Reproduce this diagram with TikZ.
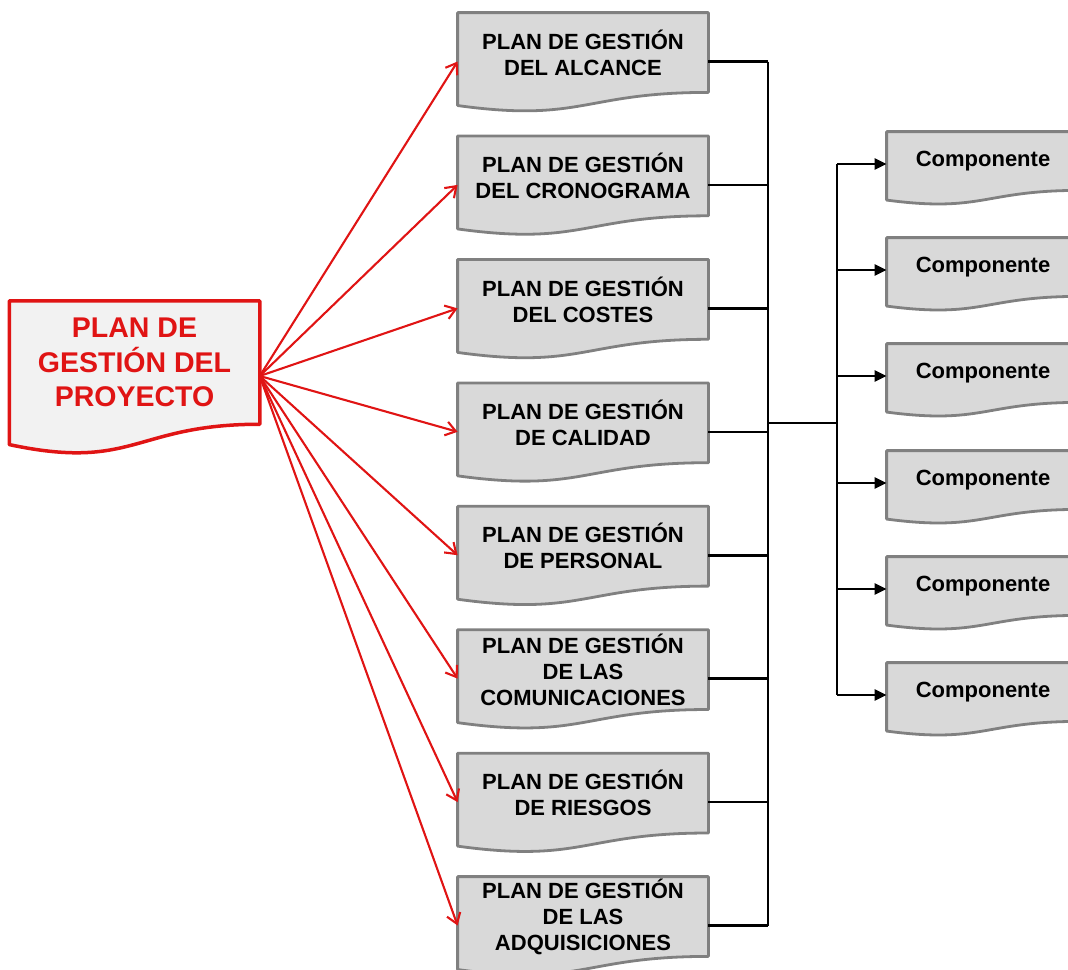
\documentclass[tikz,border=0pt]{standalone}
\usepackage{fontspec}
\setmainfont{Liberation Sans}
\usetikzlibrary{arrows.meta,calc}

% A rectangle whose bottom edge is a single wave (flowchart "document").
% The node's rectangle is the straight part; the wave hangs below it.
\makeatletter
\pgfdeclareshape{wavedoc}{%
  \inheritsavedanchors[from=rectangle]%
  \inheritanchorborder[from=rectangle]%
  \inheritanchor[from=rectangle]{center}%
  \inheritanchor[from=rectangle]{north}%
  \inheritanchor[from=rectangle]{south}%
  \inheritanchor[from=rectangle]{east}%
  \inheritanchor[from=rectangle]{west}%
  \inheritanchor[from=rectangle]{north east}%
  \inheritanchor[from=rectangle]{north west}%
  \inheritanchor[from=rectangle]{south east}%
  \inheritanchor[from=rectangle]{south west}%
  \backgroundpath{%
    \southwest \edef\docs@l{\the\pgf@x}\edef\docs@b{\the\pgf@y}%
    \northeast \edef\docs@r{\the\pgf@x}\edef\docs@t{\the\pgf@y}%
    \pgfmathsetmacro\docs@h{\docs@t-\docs@b}%
    \pgfmathsetmacro\docs@m{(\docs@l+\docs@r)/2}%
    \pgfmathsetmacro\docs@c{\docs@b-0.381*\docs@h}%
    \pgfmathsetmacro\docs@e{\docs@b-0.1646*\docs@h}%
    \pgfpathmoveto{\pgfpoint{\docs@l}{\docs@t}}%
    \pgfpathlineto{\pgfpoint{\docs@r}{\docs@t}}%
    \pgfpathlineto{\pgfpoint{\docs@r}{\docs@b}}%
    \pgfpathcurveto{\pgfpoint{\docs@m pt}{\docs@b}}%
                   {\pgfpoint{\docs@m pt}{\docs@c pt}}%
                   {\pgfpoint{\docs@l}{\docs@e pt}}%
    \pgfpathclose
  }%
}
\makeatother

\definecolor{planred}{RGB}{224,20,20}
\definecolor{boxgray}{RGB}{217,217,217}
\definecolor{bordergray}{RGB}{128,128,128}
\definecolor{mainfill}{RGB}{242,242,242}

\tikzset{
  plan/.style={shape=wavedoc, draw=bordergray, fill=boxgray, line width=2.8pt,
    line join=round, minimum width=248pt, minimum height=77pt, inner sep=0pt,
    align=center, font=\bfseries\fontsize{22}{26}\selectfont},
  comp/.style={plan, minimum width=190pt, minimum height=56pt},
  master/.style={shape=wavedoc, draw=planred, fill=mainfill, line width=3.5pt,
    line join=round, minimum width=247pt, minimum height=120pt, inner sep=0pt,
    align=center, text=planred, font=\bfseries\fontsize{28.5}{34.5}\selectfont},
  redarrow/.style={draw=planred, line width=2.1pt,
    -{Straight Barb[length=10pt,width=14pt,line width=2.1pt]}},
  link/.style={draw=black, line width=2.6pt},
  linkarrow/.style={link, -{Triangle[length=12pt,width=11pt]}},
}

\begin{document}
\begin{tikzpicture}[x=1pt,y=1pt]
\path[use as bounding box] (0,0) rectangle (1068,-969);
\clip (0,0) rectangle (1068,-969);

% project management plan
\node[master] (main) at (134.5,-362.5) {PLAN DE\\GESTIÓN DEL\\PROYECTO};
\coordinate (m-out) at ($(main.east)+(0,-13.5)$);

% subsidiary plans
\node[plan] (p1) at (583,-52.5) {PLAN DE GESTIÓN\\DEL ALCANCE};
\node[plan] (p2) at (583,-175.9) {PLAN DE GESTIÓN\\DEL CRONOGRAMA};
\node[plan] (p3) at (583,-299.4) {PLAN DE GESTIÓN\\DEL COSTES};
\node[plan] (p4) at (583,-422.8) {PLAN DE GESTIÓN\\DE CALIDAD};
\node[plan] (p5) at (583,-546.2) {PLAN DE GESTIÓN\\DE PERSONAL};
\node[plan] (p6) at (583,-669.6) {PLAN DE GESTIÓN\\DE LAS\\COMUNICACIONES};
\node[plan] (p7) at (583,-793.1) {PLAN DE GESTIÓN\\DE RIESGOS};
\node[plan] (p8) at (583,-916.5) {PLAN DE GESTIÓN\\DE LAS\\ADQUISICIONES};

\foreach \i in {1,...,8}{
  \coordinate (p\i-in) at ($(p\i.west)+(0,-9)$);
  \coordinate (p\i-out) at ($(p\i.east)+(0,-9)$);
}

% components
\node[comp] (c1) at (983,-161) {Componente};
\node[comp] (c2) at (983,-267) {Componente};
\node[comp] (c3) at (983,-373) {Componente};
\node[comp] (c4) at (983,-480) {Componente};
\node[comp] (c5) at (983,-586) {Componente};
\node[comp] (c6) at (983,-692) {Componente};

\foreach \i in {1,...,6}{
  \coordinate (c\i-in) at ($(c\i.west)+(0,-3)$);
}

% bus lines
\coordinate (busA) at (768,-423);
\coordinate (busB) at (837,-423);

% red arrows from the project plan
\foreach \i in {1,...,8}{
  \draw[redarrow] (m-out) -- (p\i-in);
}

% plans gathered on the first bus
\foreach \i in {1,...,8}{
  \draw[link] (p\i-out) -- (p\i-out -| busA);
}
\draw[link] (p1-out -| busA) -- (p8-out -| busA);
\draw[link] (busA) -- (busB);

% second bus feeding the components
\draw[link] (c1-in -| busB) -- (c6-in -| busB);
\foreach \i in {1,...,6}{
  \draw[linkarrow] (c\i-in -| busB) -- (c\i-in);
}
\end{tikzpicture}
\end{document}
